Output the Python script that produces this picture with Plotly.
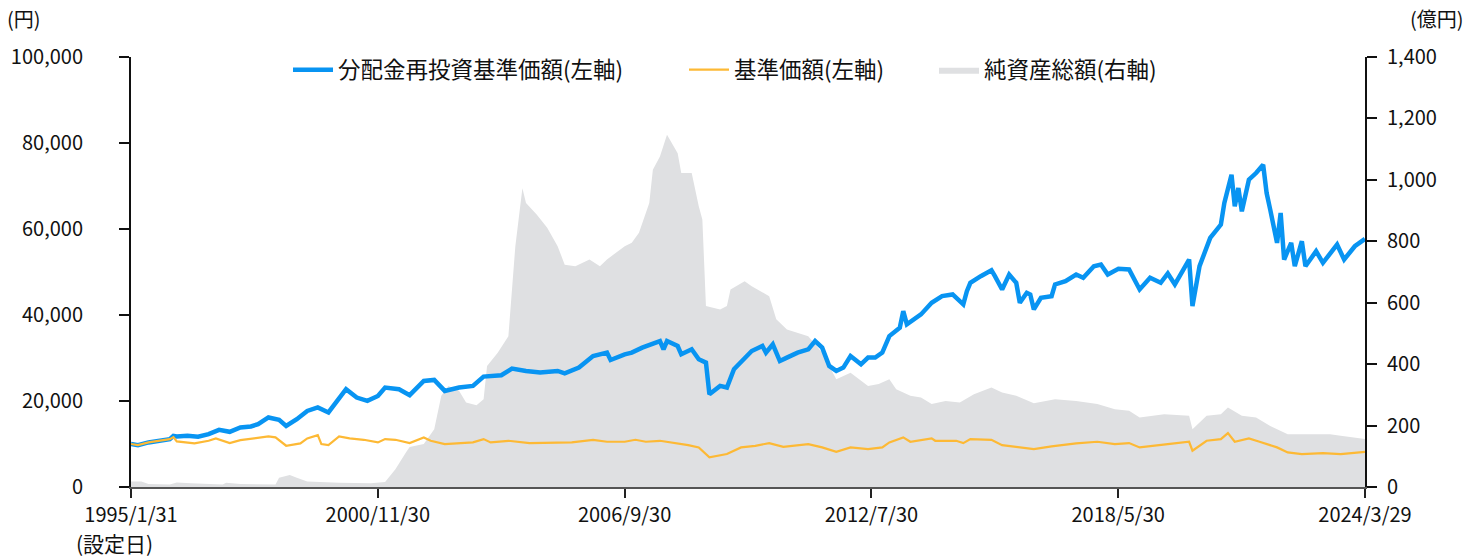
import plotly.graph_objects as go

# ---------------- data ----------------
reinv_dates = ["1995-01-31", "1995-04", "1995-07", "1995-10", "1996-01", "1996-02", "1996-03", "1996-06",
               "1996-09", "1996-12", "1997-03", "1997-06", "1997-09", "1997-12", "1998-02", "1998-05",
               "1998-08", "1998-10", "1999-01", "1999-04", "1999-07", "1999-10", "2000-01", "2000-03",
               "2000-06", "2000-09", "2000-12", "2001-02", "2001-06", "2001-09", "2002-01", "2002-04",
               "2002-07", "2002-11", "2003-03", "2003-06", "2003-11", "2004-02", "2004-06", "2004-10",
               "2005-03", "2005-05", "2005-09", "2006-01", "2006-05", "2006-06", "2006-10", "2006-12",
               "2007-03", "2007-05", "2007-08", "2007-09", "2007-10", "2008-01", "2008-02", "2008-05",
               "2008-07", "2008-09", "2008-10", "2009-01", "2009-03", "2009-05", "2009-08", "2009-10",
               "2010-01", "2010-02", "2010-04", "2010-06", "2010-08", "2010-11", "2011-02", "2011-04",
               "2011-06", "2011-08", "2011-10", "2011-12", "2012-02", "2012-05", "2012-07", "2012-09",
               "2012-11", "2013-01", "2013-04", "2013-05", "2013-06", "2013-10", "2014-01", "2014-04",
               "2014-07", "2014-10", "2014-11", "2014-12", "2015-03", "2015-06", "2015-07", "2015-09",
               "2015-11", "2016-01", "2016-02", "2016-04", "2016-05", "2016-06", "2016-08", "2016-11",
               "2016-12", "2017-03", "2017-06", "2017-08", "2017-11", "2018-01", "2018-03", "2018-05",
               "2018-06", "2018-09", "2018-12", "2019-03", "2019-06", "2019-08", "2019-10", "2020-02",
               "2020-03", "2020-05", "2020-08", "2020-11", "2020-12", "2021-02", "2021-03", "2021-04",
               "2021-05", "2021-07", "2021-09", "2021-11", "2021-12", "2022-01", "2022-03", "2022-04",
               "2022-05", "2022-07", "2022-08", "2022-10", "2022-11", "2023-02", "2023-04", "2023-08",
               "2023-10", "2024-01", "2024-03-29"]
reinv_values = [10000, 9745, 10370, 10750, 11140, 11900, 11760, 11900,
                11680, 12300, 13300, 12830, 13850, 14080, 14620, 16170,
                15620, 14220, 15780, 17700, 18500, 17330, 20800, 22740,
                20800, 20030, 21180, 23130, 22740, 21350, 24670, 24900,
                22350, 23130, 23510, 25680, 25990, 27540, 26990, 26610,
                26990, 26450, 27770, 30460, 31250, 29540, 30860, 31250,
                32410, 32950, 33950, 32020, 33950, 32790, 30860, 32020,
                29700, 28930, 21580, 23510, 23130, 27380, 30090, 31620,
                32790, 31250, 33180, 29300, 30090, 31250, 32020, 33950,
                32410, 28150, 26990, 27770, 30460, 28540, 30090, 30090,
                31250, 35100, 37050, 40900, 37820, 40140, 42850, 44390,
                44780, 42460, 45550, 47490, 49030, 50420, 49030, 45940,
                49420, 47490, 42850, 45170, 44780, 41300, 44010, 44390,
                47100, 47870, 49420, 48650, 51350, 51740, 49420, 50190,
                50740, 50580, 45940, 48650, 47490, 49650, 47100, 52900,
                42070, 51350, 57930, 61020, 66050, 72620, 65280, 69540,
                64110, 71460, 73010, 74940, 68370, 64500, 56770, 63730,
                52900, 56770, 51350, 57160, 51350, 54830, 52130, 56380,
                52900, 55990, 57700]

nav_dates = ["1995-01-31", "1995-04", "1995-07", "1995-10", "1996-01", "1996-02", "1996-03", "1996-08",
             "1996-12", "1997-02", "1997-06", "1997-09", "1998-01", "1998-05", "1998-07", "1998-10",
             "1999-02", "1999-04", "1999-07", "1999-08", "1999-10", "2000-01", "2000-04", "2000-08",
             "2000-12", "2001-02", "2001-05", "2001-09", "2002-01", "2002-03", "2002-07", "2003-03",
             "2003-06", "2003-08", "2004-01", "2004-07", "2005-07", "2006-01", "2006-05", "2006-10",
             "2007-01", "2007-04", "2007-08", "2008-01", "2008-04", "2008-07", "2008-10", "2009-03",
             "2009-07", "2009-11", "2010-03", "2010-07", "2011-02", "2011-06", "2011-10", "2012-02",
             "2012-07", "2012-11", "2013-01", "2013-05", "2013-07", "2014-01", "2014-02", "2014-08",
             "2014-10", "2014-12", "2015-06", "2015-09", "2016-02", "2016-06", "2016-11", "2017-06",
             "2017-12", "2018-05", "2018-09", "2018-12", "2019-08", "2020-02", "2020-03", "2020-07",
             "2020-11", "2021-01", "2021-03", "2021-07", "2021-10", "2022-03", "2022-06", "2022-10",
             "2023-04", "2023-09", "2024-03-29"]
nav_values = [10000, 9745, 10370, 10750, 11140, 11600, 10600, 10130,
              10750, 11300, 10200, 10900, 11300, 11760, 11530, 9600,
              10130, 11300, 12060, 9980, 9740, 11760, 11300, 10980,
              10370, 11140, 10980, 10210, 11530, 10750, 9980, 10370,
              11140, 10370, 10750, 10210, 10370, 10980, 10520, 10520,
              10980, 10520, 10750, 10210, 9740, 9210, 6890, 7660,
              9210, 9580, 10210, 9350, 9980, 9210, 8190, 9210,
              8820, 9210, 10370, 11530, 10520, 11300, 10750, 10750,
              10210, 11140, 10980, 9740, 9210, 8820, 9440, 10130,
              10520, 9980, 10210, 9210, 9980, 10520, 8430, 10750,
              11140, 12530, 10520, 11300, 10520, 9210, 8050, 7660,
              7890, 7660, 8190]

aum_dates = ["1995-01-31", "1995-05", "1995-07", "1996-01", "1996-03", "1996-07", "1997-04", "1997-05",
             "1997-09", "1998-07", "1998-08", "1998-11", "1999-01", "1999-04", "2000-01", "2000-10",
             "2001-02", "2001-05", "2001-08", "2001-09", "2002-01", "2002-04", "2002-06", "2002-08",
             "2002-11", "2003-01", "2003-04", "2003-06", "2003-07", "2003-10", "2004-01", "2004-02",
             "2004-03", "2004-05", "2004-06", "2004-09", "2004-12", "2005-03", "2005-05", "2005-08",
             "2005-12", "2006-03", "2006-05", "2006-10", "2006-12", "2007-02", "2007-05", "2007-06",
             "2007-08", "2007-10", "2008-01", "2008-02", "2008-05", "2008-07", "2008-08", "2008-09",
             "2009-01", "2009-03", "2009-04", "2009-08", "2009-10", "2010-03", "2010-05", "2010-08",
             "2010-11", "2011-02", "2011-06", "2011-10", "2012-02", "2012-07", "2012-10", "2013-01",
             "2013-03", "2013-07", "2013-10", "2014-01", "2014-05", "2014-09", "2015-01", "2015-06",
             "2015-09", "2016-01", "2016-06", "2016-12", "2017-06", "2017-12", "2018-05", "2018-09",
             "2018-12", "2019-07", "2020-02", "2020-03", "2020-07", "2020-11", "2021-01", "2021-05",
             "2021-09", "2022-01", "2022-06", "2023-06", "2023-09", "2024-03-29"]
aum_values = [18, 18, 10, 8, 15, 12, 8, 14,
              10, 8, 30, 39, 30, 18, 14, 12,
              16, 58, 113, 130, 140, 188, 297, 329,
              313, 275, 266, 286, 394, 437, 491, 654,
              784, 973, 925, 887, 844, 784, 724, 719,
              741, 719, 741, 784, 795, 828, 925, 1033,
              1076, 1147, 1087, 1022, 1022, 914, 871, 589,
              578, 589, 643, 670, 654, 621, 546, 513,
              502, 491, 437, 351, 372, 329, 335, 351,
              318, 297, 291, 270, 280, 275, 302, 324,
              308, 297, 273, 286, 280, 270, 253, 248,
              226, 237, 232, 188, 232, 237, 259, 232,
              226, 199, 172, 172, 167, 156]

x_tick_vals = ["1995-01-31", "2000-11-30", "2006-09-30", "2012-07-30", "2018-05-30", "2024-03-29"]
x_tick_text = ["1995/1/31", "2000/11/30", "2006/9/30", "2012/7/30", "2018/5/30", "2024/3/29"]

names = ["分配金再投資基準価額(左軸)", "基準価額(左軸)", "純資産総額(右軸)"]

# ---------------- figure ----------------
FONT = "Noto Sans CJK JP"
W, H = 1469, 557
L, R, T, B = 131, 104, 57, 70
PW, PH = W - L - R, H - T - B


def px(xp):
    return (xp - L) / PW


def py(yp):
    return (H - B - yp) / PH


fig = go.Figure()
fig.add_trace(go.Scatter(
    x=aum_dates, y=aum_values, name=names[2], yaxis="y", legend="legend3",
    mode="lines", fill="tozeroy", line=dict(width=0, color="#dfe0e2"),
    fillcolor="#dfe0e2"))
fig.add_trace(go.Scatter(
    x=reinv_dates, y=reinv_values, name=names[0], yaxis="y2", legend="legend",
    mode="lines", line=dict(width=4.5, color="#0894f2")))
fig.add_trace(go.Scatter(
    x=nav_dates, y=nav_values, name=names[1], yaxis="y2", legend="legend2",
    mode="lines", line=dict(width=2.2, color="#fdb935")))

axis_font = dict(family=FONT, size=20, color="#111111")
leg_font = dict(family=FONT, size=22.5, color="#111111")


def leg(xpix):
    return dict(orientation="h", x=px(xpix), xanchor="left", y=py(70), yanchor="middle",
                font=leg_font, bgcolor="rgba(0,0,0,0)", itemwidth=40)


fig.update_layout(
    width=W, height=H,
    margin=dict(l=L, r=R, t=T, b=B),
    plot_bgcolor="white", paper_bgcolor="white",
    font=dict(family=FONT, size=20, color="#111111"),
    showlegend=True,
    legend=leg(288), legend2=leg(684), legend3=leg(934),
    xaxis=dict(type="date", range=["1995-01-31", "2024-03-29"],
               tickmode="array", tickvals=x_tick_vals, ticktext=x_tick_text,
               ticks="outside", ticklen=9, tickwidth=1.5, tickcolor="#222",
               showline=True, linecolor="#555555", linewidth=2,
               showgrid=False, zeroline=False, tickfont=axis_font),
    yaxis=dict(range=[0, 1400], side="right", tickmode="array",
               tickvals=[0, 200, 400, 600, 800, 1000, 1200, 1400],
               tickformat=",", ticks="outside", ticklen=10, tickwidth=1.5, tickcolor="#111",
               showline=True, linecolor="#111111", linewidth=2,
               showgrid=False, zeroline=False, tickfont=axis_font, ticklabelstandoff=6),
    yaxis2=dict(range=[0, 100000], side="left", overlaying="y", tickmode="array",
                tickvals=[0, 20000, 40000, 60000, 80000, 100000],
                tickformat=",", ticks="outside", ticklen=10, tickwidth=1.5, tickcolor="#111",
                showline=True, linecolor="#111111", linewidth=2,
                showgrid=False, zeroline=False, tickfont=axis_font, ticklabelstandoff=32),
    annotations=[
        dict(text="(円)", x=px(5), y=py(18), xref="paper", yref="paper",
             xanchor="left", yanchor="middle", showarrow=False, font=axis_font),
        dict(text="(億円)", x=px(1466), y=py(18), xref="paper", yref="paper",
             xanchor="right", yanchor="middle", showarrow=False, font=axis_font),
        dict(text="(設定日)", x=px(114), y=py(543), xref="paper", yref="paper",
             xanchor="center", yanchor="middle", showarrow=False,
             font=dict(family=FONT, size=21, color="#111111")),
    ],
)

fig.write_html("out.html", config={"displayModeBar": False},
               post_script="document.body.style.margin='0';")
